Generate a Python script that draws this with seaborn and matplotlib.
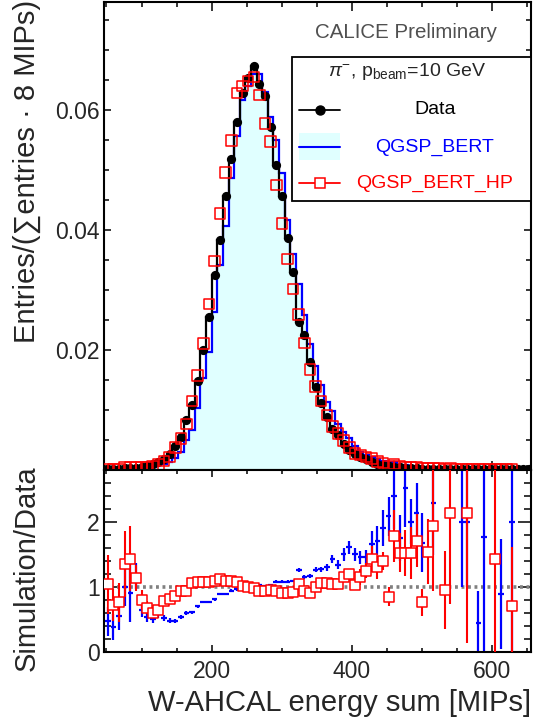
import numpy as np
import matplotlib
matplotlib.use("Agg")
import matplotlib.pyplot as plt
import seaborn as sns
from matplotlib.patches import Rectangle
from matplotlib.lines import Line2D
from matplotlib.ticker import MultipleLocator, FixedLocator, NullFormatter

# ---------------- data ----------------
bin_width = 8
bin_low = 48
n_bins = 76
edges = bin_low + bin_width * np.arange(n_bins + 1)
centers = edges[:-1] + bin_width / 2

data = [0.0001, 0.0001, 0.0001, 0.0002, 0.0002, 0.0003, 0.0004, 0.0006, 0.0009, 0.0012,
        0.0018, 0.0026, 0.0040, 0.0054, 0.0083, 0.0108, 0.0147, 0.0199, 0.0255, 0.0325,
        0.0383, 0.0457, 0.0518, 0.0579, 0.0629, 0.0653, 0.0673, 0.0643, 0.0623, 0.0571,
        0.0508, 0.0457, 0.0386, 0.0329, 0.0246, 0.0224, 0.0180, 0.0137, 0.0111, 0.0087,
        0.0068, 0.0057, 0.0042, 0.0032, 0.0026, 0.0021, 0.0017, 0.0013, 0.0010, 0.0008,
        0.0006, 0.0005, 0.0004, 0.0003, 0.00025, 0.0002, 0.00016, 0.00013, 0.0001, 0.00008,
        0.00007, 0.00006, 0.00005, 0.00004, 0.00004, 0.00003, 0.00003, 0.00002, 0.00002, 0.00002,
        0.00002, 0.00001, 0.00001, 0.00001, 0.00001, 0.00001]

qgsp_bert = [0.00005, 0.00004, 0.00006, 0.0002, 0.0002, 0.0003, 0.0003, 0.0003, 0.00045, 0.0007,
             0.0009, 0.0013, 0.0019, 0.0029, 0.0050, 0.0066, 0.0103, 0.0153, 0.0196, 0.0263,
             0.0341, 0.0407, 0.0487, 0.0556, 0.0616, 0.0640, 0.0660, 0.0660, 0.0630, 0.0588,
             0.0549, 0.0494, 0.0417, 0.0359, 0.0310, 0.0258, 0.0209, 0.0173, 0.0141, 0.0113,
             0.0097, 0.0076, 0.0063, 0.0052, 0.0039, 0.0030, 0.0025, 0.0021, 0.0017, 0.0015,
             0.0012, 0.0012, 0.0007, 0.0008, 0.0005, 0.0004, 0.00027, 0.0002, 0.00023, 0.00015,
             0.0001, 0.0001, 0.00008, 0.00008, 0.00008, 0.00005, 0.00001, 0.00004, 0.00003, 0.00002,
             0.00002, 0.00002, 0.00002, 0.00001, 0.00001, 0.0]

qgsp_bert_hp = [0.0001, 0.0001, 0.0001, 0.0003, 0.0003, 0.0003, 0.0003, 0.0004, 0.0005, 0.0008,
                0.0014, 0.0021, 0.0037, 0.0052, 0.0076, 0.0114, 0.0157, 0.0210, 0.0276, 0.0348,
                0.0427, 0.0496, 0.0549, 0.0628, 0.0640, 0.0648, 0.0655, 0.0625, 0.0577, 0.0547,
                0.0475, 0.0410, 0.0351, 0.0301, 0.0259, 0.0211, 0.0167, 0.0138, 0.0114, 0.0091,
                0.0072, 0.0060, 0.0048, 0.0037, 0.0027, 0.0024, 0.0021, 0.0018, 0.0013, 0.0011,
                0.0005, 0.0009, 0.0006, 0.00045, 0.0004, 0.00034, 0.00012, 0.0002, 0.0002, 0.00015,
                0.00007, 0.00013, 0.0001, 0.0001, 0.0001, 0.00008, 0.00006, 0.00005, 0.00005, 0.00003,
                0.00003, 0.00002, 0.00001, np.nan, np.nan, np.nan]

nan = np.nan
ratio_bert = [0.47, 0.39, 0.55, 1.00, 0.91, 1.16, 0.64, 0.54, 0.50, 0.58,
              0.52, 0.48, 0.48, 0.54, 0.60, 0.61, 0.70, 0.77, 0.77, 0.81,
              0.89, 0.89, 0.94, 0.96, 0.98, 0.98, 1.00, 1.03, 1.01, 1.03,
              1.08, 1.08, 1.08, 1.09, 1.26, 1.15, 1.16, 1.26, 1.27, 1.30,
              1.43, 1.34, 1.50, 1.61, 1.50, 1.45, 1.45, 1.65, 1.71, 1.90,
              2.08, 2.39, 1.75, 2.52, 2.00, 2.14, 1.68, nan, 2.29, nan,
              nan, nan, nan, 2.00, 2.00, nan, 0.44, 1.77, nan, nan,
              0.89, nan, 1.99, nan, nan, nan]
ratio_bert_err = [0.22, 0.20, 0.22, 0.30, 0.45, 0.20, 0.10, 0.08, 0.06, 0.06,
                  0.05, 0.04, 0.03, 0.03, 0.03, 0.02, 0.02, 0.02, 0.02, 0.02,
                  0.02, 0.02, 0.02, 0.02, 0.02, 0.02, 0.02, 0.02, 0.02, 0.02,
                  0.02, 0.02, 0.02, 0.02, 0.03, 0.03, 0.03, 0.04, 0.04, 0.05,
                  0.06, 0.07, 0.10, 0.10, 0.10, 0.10, 0.12, 0.20, 0.22, 0.28,
                  0.30, 0.50, 0.35, 0.60, 0.35, 0.45, 0.45, nan, 0.80, nan,
                  nan, nan, nan, 1.00, 1.00, nan, 0.50, 2.00, nan, nan,
                  0.85, nan, 2.00, nan, nan, nan]

ratio_hp = [1.04, 0.72, 0.76, 1.35, 1.43, 1.14, 0.80, 0.68, 0.60, 0.65,
            0.78, 0.81, 0.86, 0.94, 0.93, 1.06, 1.07, 1.07, 1.07, 1.09,
            1.12, 1.09, 1.09, 1.07, 1.02, 0.99, 0.98, 0.94, 0.94, 0.95,
            0.93, 0.91, 0.91, 0.92, 1.05, 0.93, 0.91, 1.00, 1.06, 1.06,
            1.05, 1.04, 1.15, 1.19, 1.03, 1.15, 1.25, 1.42, 1.30, 1.40,
            0.85, 1.78, 1.52, 1.52, 1.52, 1.71, 0.76, 1.54, 1.94, nan,
            0.95, 2.14, nan, nan, 2.14, nan, nan, nan, nan, 1.43,
            nan, nan, 0.71, nan, nan, nan]
ratio_hp_err = [0.45, 0.25, 0.30, 0.50, 0.50, 0.20, 0.15, 0.10, 0.08, 0.07,
                0.06, 0.05, 0.04, 0.04, 0.03, 0.03, 0.03, 0.03, 0.03, 0.03,
                0.03, 0.03, 0.03, 0.03, 0.03, 0.03, 0.03, 0.03, 0.03, 0.03,
                0.03, 0.03, 0.03, 0.03, 0.03, 0.03, 0.03, 0.04, 0.04, 0.04,
                0.05, 0.05, 0.06, 0.07, 0.08, 0.12, 0.12, 0.20, 0.18, 0.14,
                0.14, 0.40, 0.30, 0.35, 0.40, 0.40, 0.20, 0.50, 1.00, nan,
                0.60, 1.40, nan, nan, 2.00, nan, nan, nan, nan, 1.60,
                nan, nan, 0.90, nan, nan, nan]

x_ticks = [200, 400, 600]
y_ticks_top = [0.02, 0.04, 0.06]
y_ticks_ratio = [0, 1, 2]

# ---------------- style ----------------
sns.set_theme(style="ticks")
plt.rcParams['font.family'] = ['Liberation Sans', 'DejaVu Sans']
plt.rcParams['mathtext.fontset'] = 'custom'
plt.rcParams['mathtext.rm'] = 'Liberation Sans'
plt.rcParams['mathtext.it'] = 'Liberation Sans:italic'

W, H = 536, 722
fig = plt.figure(figsize=(W / 100, H / 100), dpi=100)
L, R = 104, 531
ax1 = fig.add_axes([L / W, (H - 469.5) / H, (R - L) / W, (469.5 - 2) / H])
ax2 = fig.add_axes([L / W, (H - 652) / H, (R - L) / W, (652 - 469.5) / H])

XLIM = (46.5, 655)

# ---------------- top panel ----------------
ax1.stairs(qgsp_bert, edges, fill=True, color='#e0ffff', zorder=1)
ax1.stairs(qgsp_bert, edges, color='blue', lw=1.6, zorder=2)
ax1.stairs(data, edges, color='black', lw=1.6, zorder=3)
sns.scatterplot(x=centers, y=data, ax=ax1, marker='o', s=44, color='black',
                edgecolor='black', linewidth=0, zorder=4, legend=False)
sns.scatterplot(x=centers, y=qgsp_bert_hp, ax=ax1, marker='s', s=58,
                facecolors='none', edgecolor='red', linewidth=1.1, zorder=5, legend=False)

ax1.set_xlim(*XLIM)
ax1.set_ylim(0, 0.078)
ax1.xaxis.set_major_locator(FixedLocator(x_ticks))
ax1.xaxis.set_minor_locator(MultipleLocator(50))
ax1.xaxis.set_major_formatter(NullFormatter())
ax1.yaxis.set_major_locator(FixedLocator(y_ticks_top))
ax1.yaxis.set_minor_locator(MultipleLocator(0.005))
ax1.set_yticklabels(['0.02', '0.04', '0.06'])
ax1.tick_params(axis='both', which='both', direction='in', top=True, right=True,
                width=1.1, color='black', labelsize=16.5, pad=3)
ax1.tick_params(axis='x', which='major', length=6.5)
ax1.tick_params(axis='x', which='minor', length=3.6)
ax1.tick_params(axis='y', which='major', length=5)
ax1.tick_params(axis='y', which='minor', length=3.6)
ax1.set_ylabel('Entries/(\u2211entries \u00b7 8 MIPs)', fontsize=21, loc='top')
ax1.yaxis.set_label_coords(-0.1475, 1.004)
ax1.set_xlabel('')
for sp in ax1.spines.values():
    sp.set_linewidth(1.5)
    sp.set_color('black')

# CALICE label
ax1.text(0.707, 0.934, 'CALICE Preliminary', transform=ax1.transAxes,
         ha='center', va='center', fontsize=14.8, color='#505050')

# legend box (manual)
tr = ax1.transAxes
ax1.add_patch(Rectangle((0.440, 0.574), 0.560, 0.308, transform=tr,
                        facecolor='white', edgecolor='black', lw=1.3, zorder=10))
ax1.text(0.711, 0.851, r'$\pi^{-}$, p$_{\rm beam}$=10 GeV', transform=tr,
         ha='center', va='center', fontsize=14, zorder=11)
hx0, hx1 = 0.457, 0.553
hxc = 0.5 * (hx0 + hx1)
lab_x = 0.775
ax1.add_line(Line2D([hx0, hx1], [0.769, 0.769], transform=tr, color='black', lw=1.3, zorder=11))
ax1.add_line(Line2D([hxc], [0.769], transform=tr, color='black', marker='o', ms=6.5, zorder=12))
ax1.text(lab_x, 0.769, 'Data', transform=tr, ha='center', va='center', fontsize=14,
         color='black', zorder=11)
ax1.add_patch(Rectangle((hx0, 0.661), hx1 - hx0, 0.058, transform=tr,
                        facecolor='#e0ffff', edgecolor='none', zorder=11))
ax1.add_line(Line2D([hx0, hx1], [0.690, 0.690], transform=tr, color='blue', lw=1.5, zorder=12))
ax1.text(lab_x, 0.690, 'QGSP_BERT', transform=tr, ha='center', va='center', fontsize=14,
         color='blue', zorder=11)
ax1.add_line(Line2D([hx0, hx1], [0.613, 0.613], transform=tr, color='red', lw=1.3, zorder=11))
ax1.add_line(Line2D([hxc], [0.613], transform=tr, color='red', marker='s', ms=7.5,
                    mfc='white', mec='red', mew=1.1, zorder=12))
ax1.text(lab_x, 0.613, 'QGSP_BERT_HP', transform=tr, ha='center', va='center', fontsize=14,
         color='red', zorder=11)

# ---------------- ratio panel ----------------
ax2.axhline(1.0, color='#808080', ls=(0, (0.8, 1.0)), lw=2.6, zorder=1)
ax2.errorbar(centers, ratio_bert, yerr=ratio_bert_err, xerr=bin_width / 2, fmt='none',
             ecolor='blue', elinewidth=1.6, capsize=0, zorder=2)
ax2.errorbar(centers, ratio_hp, yerr=ratio_hp_err, fmt='none',
             ecolor='red', elinewidth=1.5, capsize=0, zorder=3)
sns.scatterplot(x=centers, y=ratio_hp, ax=ax2, marker='s', s=62,
                facecolors='white', edgecolor='red', linewidth=1.1, zorder=4, legend=False)

ax2.set_xlim(*XLIM)
ax2.set_ylim(0, 2.8)
ax2.xaxis.set_major_locator(FixedLocator(x_ticks))
ax2.xaxis.set_minor_locator(MultipleLocator(50))
ax2.yaxis.set_major_locator(FixedLocator(y_ticks_ratio))
ax2.yaxis.set_minor_locator(MultipleLocator(0.2))
ax2.set_xticklabels(['200', '400', '600'])
ax2.set_yticklabels(['0', '1', '2'])
ax2.tick_params(axis='both', which='both', direction='in', top=True, right=True,
                width=1.1, color='black', labelsize=16.5)
ax2.tick_params(axis='x', which='major', length=5, pad=6)
ax2.tick_params(axis='x', which='minor', length=2.8)
ax2.tick_params(axis='y', which='major', length=9.5, pad=3)
ax2.tick_params(axis='y', which='minor', length=5)
ax2.set_xlabel('W-AHCAL energy sum [MIPs]', fontsize=21, loc='right', labelpad=4)
ax2.set_ylabel('Simulation/Data', fontsize=21, loc='top')
ax2.yaxis.set_label_coords(-0.1475, 1.02)
for sp in ax2.spines.values():
    sp.set_linewidth(1.5)
    sp.set_color('black')

fig.savefig('out.png', dpi=100)
